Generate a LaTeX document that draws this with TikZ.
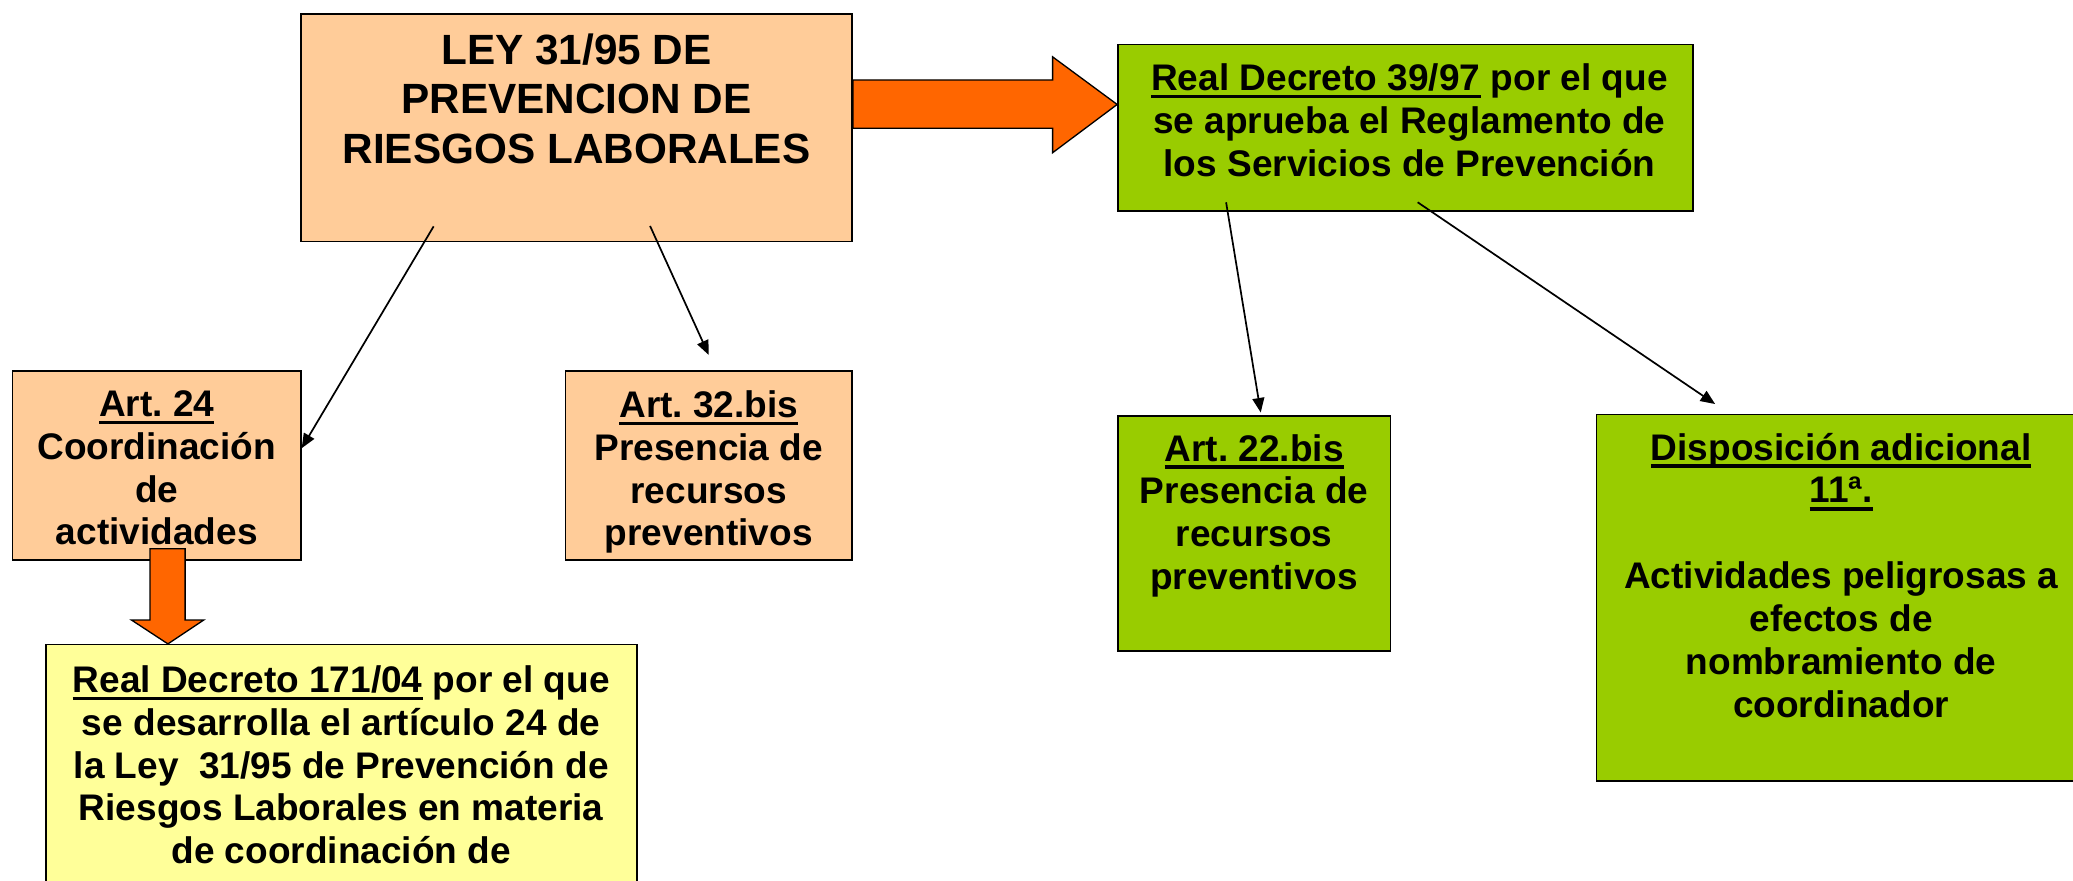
\documentclass[tikz,border=0pt]{standalone}
\usepackage{fontspec}
\setmainfont{Liberation Sans}
\usetikzlibrary{arrows.meta,calc}
\definecolor{peach}{HTML}{FFCC99}
\definecolor{lgreen}{HTML}{99CC00}
\definecolor{lyellow}{HTML}{FFFF99}
\definecolor{orng}{HTML}{FF6600}
\newsavebox\ulbox
\newcommand{\myul}[1]{\sbox\ulbox{#1}\rlap{\rule[-2.9pt]{\wd\ulbox}{1.3pt}}\usebox\ulbox}
\frenchspacing
\begin{document}
\begin{tikzpicture}[x=0.5pt,y=-0.5pt,
  box/.style={draw=black, line width=0.6pt, inner sep=0pt, anchor=north west},
  txt/.style={font=\bfseries\fontsize{14}{16.2}\selectfont, align=center, inner sep=0pt, anchor=north},
  bigtxt/.style={font=\bfseries\fontsize{16}{18.75}\selectfont, align=center, inner sep=0pt, anchor=north},
  link/.style={draw=black, line width=0.65pt, -{Triangle[length=5.5pt,width=4.5pt]}},
  fat/.style={fill=orng, draw=black, line width=0.5pt}]
\clip (0,0) rectangle (1568,666);
\fill[white] (0,0) rectangle (1568,666);
% boxes
\node[box, fill=peach, minimum width=208.5pt, minimum height=86pt] (ley) at (227,10) {};
\node[box, fill=lgreen, minimum width=217.5pt, minimum height=63pt] (rd39) at (845,33) {};
\node[box, fill=peach, minimum width=109pt, minimum height=71.5pt] (art24) at (9,280) {};
\node[box, fill=peach, minimum width=108.5pt, minimum height=71.5pt] (art32) at (427,280) {};
\node[box, fill=lyellow, minimum width=223.5pt, minimum height=100pt] (rd171) at (34,487) {};
\node[box, fill=lgreen, minimum width=103pt, minimum height=89pt] (art22) at (845,314) {};
\node[box, fill=lgreen, minimum width=185pt, minimum height=138.5pt] (disp) at (1207,313) {};
% texts
\node[bigtxt] (leyt) at ($(ley.north)+(0,15)$) {LEY 31/95 DE\\PREVENCION DE\\RIESGOS LABORALES};
\node[txt] (rd39t) at ($(rd39.north)+(3,15)$) {\myul{Real Decreto 39/97} por el que\\se aprueba el Reglamento de\\los Servicios de Prevención};
\node[txt] (art24t) at ($(art24.north)+(0,15)$) {\myul{Art. 24}\\Coordinación\\de\\actividades};
\node[txt] (art32t) at ($(art32.north)+(0,15)$) {\myul{Art. 32.bis}\\Presencia de\\recursos\\preventivos};
\node[txt] (rd171t) at ($(rd171.north)+(0,16)$) {\myul{Real Decreto 171/04} por el que\\se desarrolla el artículo 24 de\\la Ley\ \ 31/95 de Prevención de\\Riesgos Laborales en materia\\de coordinación de};
\node[txt] (art22t) at ($(art22.north)+(0,14)$) {\myul{Art. 22.bis}\\Presencia de\\recursos\\preventivos};
\node[txt] (dispt) at ($(disp.north)+(0,14)$) {\myul{Disposición adicional}\\\myul{11ª.}\\\mbox{}\\Actividades peligrosas a\\efectos de\\nombramiento de\\coordinador};
% big orange arrows
\coordinate (ra) at (ley.north east);
\coordinate (rtip) at ($(rd39.north west)+(0,46)$);
\draw[fat] ($(ra)+(0,50.5)$) -- ($(ra)+(151,50.5)$) -- ($(ra)+(151,33)$) -- (rtip)
  -- ($(ra)+(151,105.5)$) -- ($(ra)+(151,87)$) -- ($(ra)+(0,87)$) -- cycle;
\coordinate (dtip) at ($(rd171.north west)+(93,0)$);
\draw[fat] ($(dtip)+(-13.5,-72)$) -- ($(dtip)+(13,-72)$) -- ($(dtip)+(13,-18)$) -- ($(dtip)+(27,-18)$)
  -- (dtip) -- ($(dtip)+(-27.5,-18)$) -- ($(dtip)+(-13.5,-18)$) -- cycle;
% thin connectors
\draw[link] ([shift={(101,-12)}]ley.south west) -- ([shift={(0,59)}]art24.north east);
\draw[link] ([shift={(264.7,-12.3)}]ley.south west) -- ([shift={(0,-11.5)}]art32.north);
\draw[link] ([shift={(82.4,-7.2)}]rd39.south west) -- ([shift={(5,-2)}]art22.north);
\draw[link] ([shift={(227.3,-7.2)}]rd39.south west) -- ([shift={(90.3,-7.4)}]disp.north west);
\end{tikzpicture}
\end{document}
